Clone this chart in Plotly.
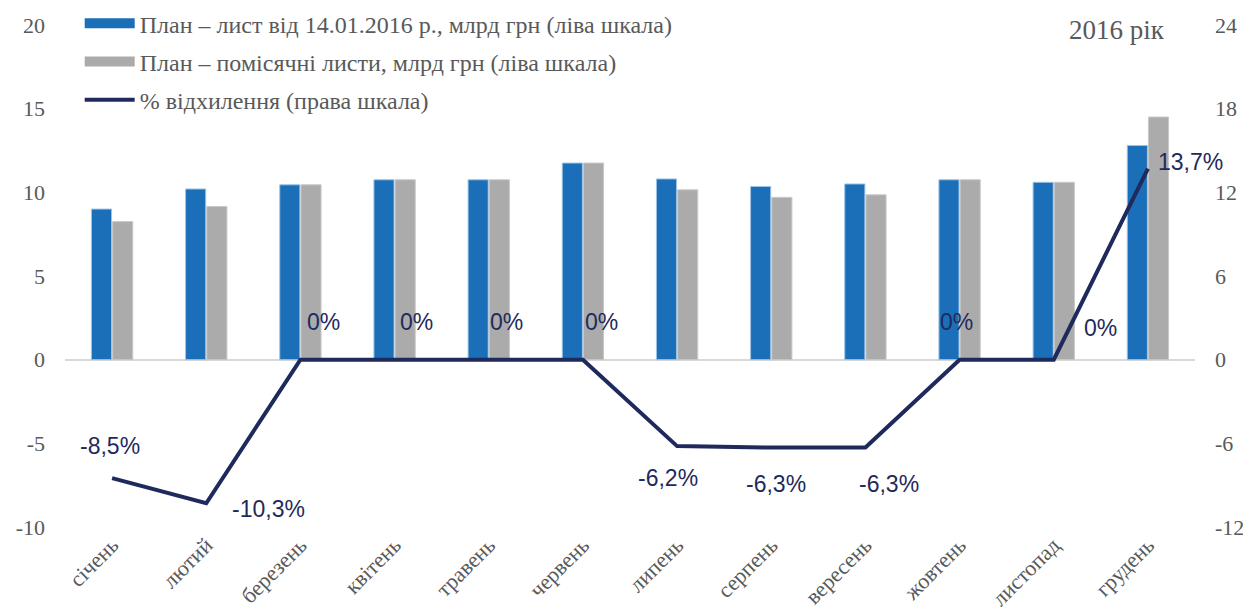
import plotly.graph_objects as go

months = ["січень", "лютий", "березень", "квітень", "травень", "червень",
          "липень", "серпень", "вересень", "жовтень", "листопад", "грудень"]
plan_jan = [9.0, 10.2, 10.45, 10.75, 10.75, 11.75, 10.8, 10.35, 10.5, 10.75, 10.6, 12.8]
plan_monthly = [8.25, 9.15, 10.45, 10.75, 10.75, 11.75, 10.15, 9.7, 9.85, 10.75, 10.6, 14.5]
deviation = [-8.5, -10.3, 0, 0, 0, 0, -6.2, -6.3, -6.3, 0, 0, 13.7]

left_ticks = [-10, -5, 0, 5, 10, 15, 20]
right_ticks = [-12, -6, 0, 6, 12, 18, 24]

name_jan = "План – лист від 14.01.2016 р., млрд грн (ліва шкала)"
name_monthly = "План – помісячні листи, млрд грн (ліва шкала)"
name_dev = "% відхилення (права шкала)"

BLUE = "#1B6FB8"
GRAY = "#ABABAB"
NAVY = "#1F2A5C"
TXT = "#595959"
SERIF = "Liberation Serif"

# label offsets in pixels (dx, dy) relative to each point
label_offsets = [(-2, -32), (62, 6), (23, -38), (22, -38), (18, -38), (19, -38),
                 (-9, 32), (5, 36), (24, 36), (-3, -38), (47, -32), (43, -7)]

fig = go.Figure()
fig.add_trace(go.Bar(x=months, y=plan_jan, name=name_jan, marker_color=BLUE,
                     marker_line=dict(color="#9DC3E6", width=1), showlegend=False))
fig.add_trace(go.Bar(x=months, y=plan_monthly, name=name_monthly, marker_color=GRAY,
                     marker_line=dict(color="#C8C8C8", width=1), showlegend=False))
fig.add_trace(go.Scatter(x=months, y=deviation, yaxis="y2", mode="lines",
                         line=dict(color=NAVY, width=4), name=name_dev, showlegend=False))

# legend entries
fig.add_trace(go.Scatter(x=[None], y=[None], mode="lines", name=name_jan, legendgroup="a",
                         line=dict(color=BLUE, width=10)))
fig.add_trace(go.Scatter(x=[None], y=[None], mode="lines", name=name_monthly, legendgroup="b",
                         line=dict(color=GRAY, width=10)))
fig.add_trace(go.Scatter(x=[None], y=[None], mode="lines", name=name_dev, legendgroup="c",
                         line=dict(color=NAVY, width=4)))

for m, v, (dx, dy) in zip(months, deviation, label_offsets):
    txt = ("%g" % v).replace(".", ",") + "%"
    fig.add_annotation(x=m, y=v, yref="y2", text=txt, showarrow=False,
                       xshift=dx, yshift=-dy,
                       font=dict(family="Liberation Sans, Arial", size=23, color=NAVY))

# page is offset by the 8px body margin: figure is 1243x604
W, H = 1243, 604
L, R, B = 57, 56, 85
PH = H - B  # paper height (t=0)
TOP = 17    # plot top in figure px

fig.add_annotation(x=0.931, y=(PH - 22) / PH, xref="paper", yref="paper", text="2016 рік",
                   showarrow=False, xanchor="center", yanchor="middle",
                   font=dict(family=SERIF, size=27, color=TXT))

fig.update_layout(
    width=W, height=H,
    margin=dict(l=L, r=R, t=0, b=B, autoexpand=False),
    paper_bgcolor="white", plot_bgcolor="white",
    barmode="group", bargap=0.55, bargroupgap=0.05,
    font=dict(family=SERIF, size=20, color=TXT),
    xaxis=dict(tickangle=-45, showgrid=False, showline=False, ticks="", automargin=False,
               range=[-0.5, len(months) - 0.5], autorange=False,
               tickfont=dict(family=SERIF, size=22, color=TXT)),
    yaxis=dict(range=[-10, 20], tickvals=left_ticks, ticktext=[str(t) for t in left_ticks],
               domain=[0, (PH - TOP) / PH], automargin=False,
               showgrid=False, zeroline=True, ticklabelstandoff=19,
               zerolinecolor="#D9D9D9", zerolinewidth=2, ticks="", showline=False,
               tickfont=dict(family=SERIF, size=22, color=TXT)),
    yaxis2=dict(range=[-12, 24], tickvals=right_ticks, ticktext=[str(t) for t in right_ticks],
                overlaying="y", side="right", automargin=False, ticklabelstandoff=19,
                showgrid=False, zeroline=False, ticks="", showline=False,
                tickfont=dict(family=SERIF, size=22, color=TXT)),
    legend=dict(x=0.013, y=1.013, xanchor="left", yanchor="top",
                bgcolor="rgba(0,0,0,0)", tracegroupgap=4, itemwidth=50,
                font=dict(family=SERIF, size=24, color=TXT)),
)

fig.write_html("out.html")
